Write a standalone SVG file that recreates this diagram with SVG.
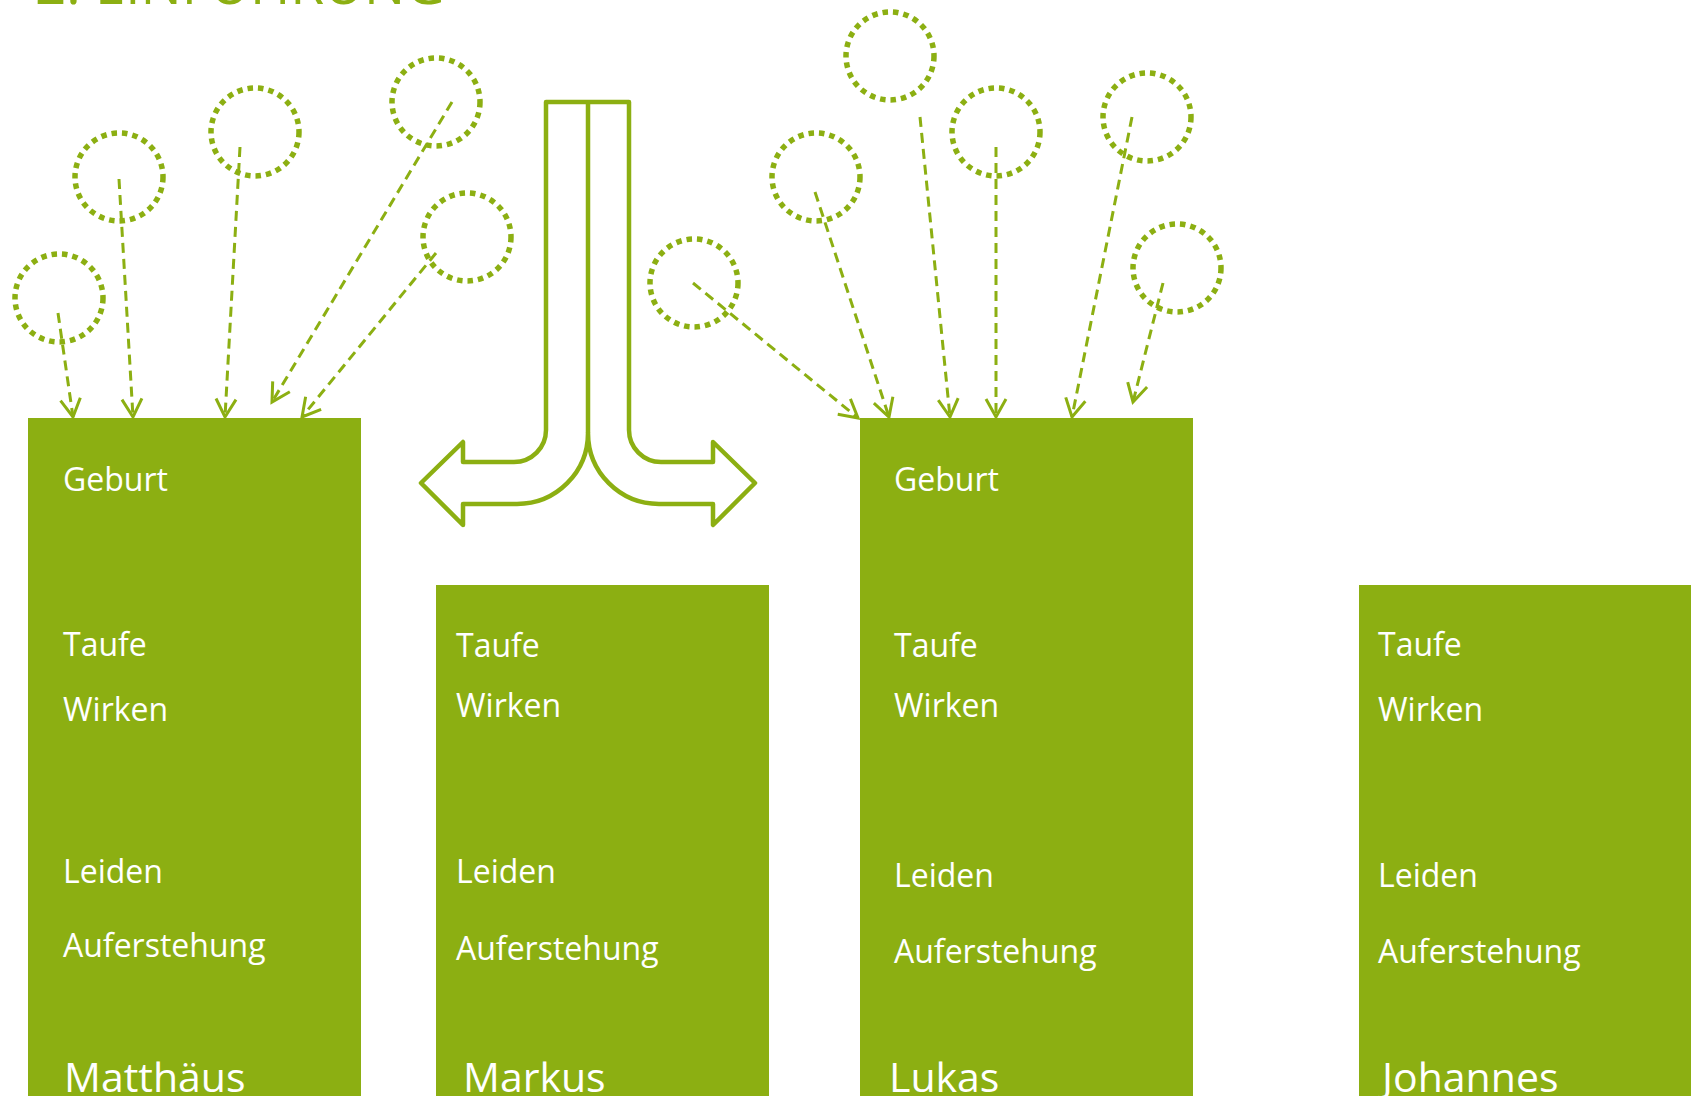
<svg xmlns="http://www.w3.org/2000/svg" width="1691" height="1096" viewBox="0 0 1691 1096">
<style>
.box{fill:#8CAF12}
.lbl{fill:#ffffff;font-family:"Open Sans","Liberation Sans",sans-serif;font-size:32px}
.name{fill:#ffffff;font-family:"Open Sans","Liberation Sans",sans-serif;font-size:41px}
.dot{fill:none;stroke:#8CAF12;stroke-width:5.5;stroke-dasharray:5.5 5}
.con{fill:none;stroke:#8CAF12;stroke-width:3;stroke-dasharray:10 6}
.split{fill:none;stroke:#8CAF12;stroke-width:4.5;stroke-linejoin:round}
.title{fill:#8CAF12;font-family:"Open Sans","Liberation Sans",sans-serif;font-size:56px}
</style>
<defs>
<marker id="open" markerUnits="userSpaceOnUse" markerWidth="26" markerHeight="26" viewBox="-22 -13 26 26" refX="0" refY="0" orient="auto">
<path d="M-18,-10 L0,0 L-18,10" fill="none" stroke="#8CAF12" stroke-width="3" stroke-dasharray="none"/>
</marker>
</defs>
<rect width="1691" height="1096" fill="#ffffff"/>
<text class="title" x="35" y="4" textLength="410" lengthAdjust="spacingAndGlyphs">2. EINFÜHRUNG</text>

<g id="circles-left">
<circle class="dot" cx="59" cy="298" r="44"/>
<circle class="dot" cx="119" cy="177" r="44"/>
<circle class="dot" cx="255" cy="132" r="44"/>
<circle class="dot" cx="436" cy="102" r="44"/>
<circle class="dot" cx="467" cy="237" r="44"/>
</g>
<g id="circles-right">
<circle class="dot" cx="694" cy="283" r="44"/>
<circle class="dot" cx="816" cy="177" r="44"/>
<circle class="dot" cx="890" cy="56" r="44"/>
<circle class="dot" cx="996" cy="132" r="44"/>
<circle class="dot" cx="1147" cy="117" r="44"/>
<circle class="dot" cx="1177" cy="268" r="44"/>
</g>

<g id="split-arrow">
<path class="split" d="M546,102 H629 V430 A32,32 0 0 0 661,462 H713 V442 L755,483 L713,525 V504 H659 A71,71 0 0 1 588,433 A71,71 0 0 1 517,504 H463 V525 L421,483 L463,442 V462 H514 A32,32 0 0 0 546,430 Z"/>
<path class="split" d="M588,102 V433"/>
</g>

<g id="node-matthaeus">
<rect class="box" x="28" y="418" width="333" height="690"/>
<text class="lbl" x="63" y="491">Geburt</text>
<text class="lbl" x="63" y="656">Taufe</text>
<text class="lbl" x="63" y="721">Wirken</text>
<text class="lbl" x="63" y="883">Leiden</text>
<text class="lbl" x="63" y="957">Auferstehung</text>
<text class="name" x="64" y="1092">Matthäus</text>
</g>
<g id="node-markus">
<rect class="box" x="436" y="585" width="333" height="520"/>
<text class="lbl" x="456" y="657">Taufe</text>
<text class="lbl" x="456" y="717">Wirken</text>
<text class="lbl" x="456" y="883">Leiden</text>
<text class="lbl" x="456" y="960">Auferstehung</text>
<text class="name" x="463" y="1092">Markus</text>
</g>
<g id="node-lukas">
<rect class="box" x="860" y="418" width="333" height="690"/>
<text class="lbl" x="894" y="491">Geburt</text>
<text class="lbl" x="894" y="657">Taufe</text>
<text class="lbl" x="894" y="717">Wirken</text>
<text class="lbl" x="894" y="887">Leiden</text>
<text class="lbl" x="894" y="963">Auferstehung</text>
<text class="name" x="889" y="1092">Lukas</text>
</g>
<g id="node-johannes">
<rect class="box" x="1359" y="585" width="340" height="520"/>
<text class="lbl" x="1378" y="656">Taufe</text>
<text class="lbl" x="1378" y="721">Wirken</text>
<text class="lbl" x="1378" y="887">Leiden</text>
<text class="lbl" x="1378" y="963">Auferstehung</text>
<text class="name" x="1382" y="1092">Johannes</text>
</g>

<g id="connectors">
<line class="con" x1="58" y1="313" x2="73" y2="417" marker-end="url(#open)"/>
<line class="con" x1="119" y1="179" x2="133" y2="417" marker-end="url(#open)"/>
<line class="con" x1="240" y1="147" x2="225" y2="417" marker-end="url(#open)"/>
<line class="con" x1="452" y1="102" x2="272" y2="402" marker-end="url(#open)"/>
<line class="con" x1="436" y1="253" x2="302" y2="417" marker-end="url(#open)"/>
<line class="con" x1="693" y1="283" x2="858" y2="418" marker-end="url(#open)"/>
<line class="con" x1="815" y1="192" x2="889" y2="417" marker-end="url(#open)"/>
<line class="con" x1="920" y1="117" x2="950" y2="417" marker-end="url(#open)"/>
<line class="con" x1="996" y1="147" x2="996" y2="417" marker-end="url(#open)"/>
<line class="con" x1="1132" y1="117" x2="1072" y2="417" marker-end="url(#open)"/>
<line class="con" x1="1163" y1="283" x2="1133" y2="402" marker-end="url(#open)"/>
</g>
</svg>
